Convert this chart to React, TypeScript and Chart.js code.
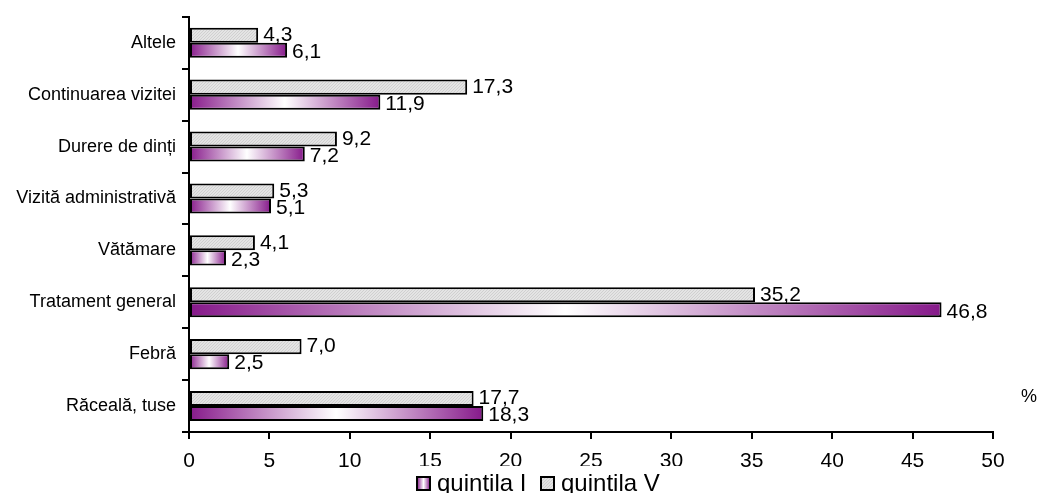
import React, { useEffect, useRef } from 'react';
import { Chart, registerables } from 'chart.js';

Chart.register(...registerables);

const categories = [
  'Altele',
  'Continuarea vizitei',
  'Durere de dinți',
  'Vizită administrativă',
  'Vătămare',
  'Tratament general',
  'Febră',
  'Răceală, tuse',
];
const quintilaV = [4.3, 17.3, 9.2, 5.3, 4.1, 35.2, 7.0, 17.7];
const quintilaI = [6.1, 11.9, 7.2, 5.1, 2.3, 46.8, 2.5, 18.3];
const legendLabels = ['quintila I', 'quintila V'];
const unitLabel = '%';

const FONT = "'Liberation Sans', Arial, sans-serif";
const PURPLE = '#86198a';

function makeHatch(): CanvasPattern | string {
  const c = document.createElement('canvas');
  c.width = 3;
  c.height = 3;
  const g = c.getContext('2d');
  if (!g) return '#dcdcdc';
  g.fillStyle = '#e4e4e4';
  g.fillRect(0, 0, 3, 3);
  g.fillStyle = '#d0d0d0';
  for (let i = 0; i < 3; i++) g.fillRect(i, 2 - i, 1, 1);
  const p = g.createPattern(c, 'repeat');
  return p || '#dcdcdc';
}

function purpleGradient(ctx: CanvasRenderingContext2D, x0: number, x1: number) {
  const g = ctx.createLinearGradient(x0, 0, x1, 0);
  g.addColorStop(0, PURPLE);
  g.addColorStop(0.5, '#ffffff');
  g.addColorStop(1, PURPLE);
  return g;
}

const fmt = (v: number) => v.toFixed(1).replace('.', ',');

export default function App() {
  const ref = useRef<HTMLCanvasElement | null>(null);

  useEffect(() => {
    document.body.style.margin = '0';
    const canvas = ref.current;
    if (!canvas) return;
    const hatch = makeHatch();

    const decor = {
      id: 'decor',
      afterDatasetsDraw(chart: any) {
        const ctx = chart.ctx as CanvasRenderingContext2D;
        ctx.save();
        ctx.font = `21px ${FONT}`;
        ctx.fillStyle = '#000';
        ctx.textAlign = 'left';
        ctx.textBaseline = 'middle';
        chart.data.datasets.forEach((ds: any, di: number) => {
          const meta = chart.getDatasetMeta(di);
          const dy = di === 0 ? 0 : 2;
          meta.data.forEach((el: any, i: number) => {
            ctx.fillText(fmt(ds.data[i]), el.x + 5, el.y + dy);
          });
        });
        ctx.restore();
      },
      afterDraw(chart: any) {
        const ctx = chart.ctx as CanvasRenderingContext2D;
        ctx.save();
        ctx.fillStyle = '#ffffff';
        ctx.fillRect(406, 466, 274, 27);
        const items = [
          { x: 417, label: legendLabels[0], kind: 'purple' },
          { x: 541, label: legendLabels[1], kind: 'gray' },
        ];
        items.forEach((it) => {
          const bx = it.x, by = 477, bw = 13, bh = 13;
          ctx.fillStyle = it.kind === 'purple' ? purpleGradient(ctx, bx, bx + bw) : (hatch as any);
          ctx.fillRect(bx, by, bw, bh);
          ctx.strokeStyle = '#000';
          ctx.lineWidth = 2;
          ctx.strokeRect(bx, by, bw, bh);
          ctx.fillStyle = '#000';
          ctx.font = `24px ${FONT}`;
          ctx.textAlign = 'left';
          ctx.textBaseline = 'alphabetic';
          ctx.fillText(it.label, bx + 20, 491);
        });
        ctx.font = `18px ${FONT}`;
        ctx.textBaseline = 'middle';
        ctx.fillText(unitLabel, 1021, 397);
        ctx.restore();
      },
    };

    const chart = new Chart(canvas, {
      type: 'bar',
      data: {
        labels: categories,
        datasets: [
          {
            label: legendLabels[1],
            data: quintilaV,
            backgroundColor: hatch as any,
            borderColor: '#000',
            borderWidth: 2,
            borderSkipped: false,
          },
          {
            label: legendLabels[0],
            data: quintilaI,
            backgroundColor: (c: any) => {
              const chart = c.chart;
              const xs = chart.scales && chart.scales.x;
              if (!xs || c.type !== 'data') return PURPLE;
              const x0 = xs.getPixelForValue(0);
              const x1 = xs.getPixelForValue(c.raw);
              if (!isFinite(x0) || !isFinite(x1) || x1 === x0) return PURPLE;
              return purpleGradient(chart.ctx, x0, x1);
            },
            borderColor: '#000',
            borderWidth: 2,
            borderSkipped: false,
          },
        ],
      },
      options: {
        indexAxis: 'y',
        animation: false,
        responsive: false,
        maintainAspectRatio: false,
        datasets: { bar: { categoryPercentage: 0.58, barPercentage: 1 } },
        layout: { padding: { left: 0, top: 15, right: 46, bottom: 0 } },
        plugins: {
          legend: { display: false },
          tooltip: { enabled: false },
        },
        scales: {
          x: {
            type: 'linear',
            min: 0,
            max: 50,
            afterFit: (s: any) => {
              s.height = 61;
            },
            ticks: {
              stepSize: 5,
              color: '#000',
              font: { family: FONT, size: 21 },
              padding: 10,
              maxRotation: 0,
            },
            grid: {
              drawOnChartArea: false,
              drawTicks: true,
              tickLength: 7,
              color: '#000',
              lineWidth: 2,
            },
            border: { display: true, color: '#000', width: 2 },
          },
          y: {
            type: 'category',
            afterFit: (s: any) => {
              s.width = 189;
            },
            ticks: {
              color: '#000',
              font: { family: FONT, size: 18 },
              padding: 6,
              autoSkip: false,
            },
            grid: {
              offset: true,
              drawOnChartArea: false,
              drawTicks: true,
              tickLength: 7,
              color: '#000',
              lineWidth: 2,
            },
            border: { display: true, color: '#000', width: 2 },
          },
        },
      },
      plugins: [decor],
    } as any);

    return () => chart.destroy();
  }, []);

  return <canvas ref={ref} width={1039} height={493} style={{ display: 'block' }} />;
}
